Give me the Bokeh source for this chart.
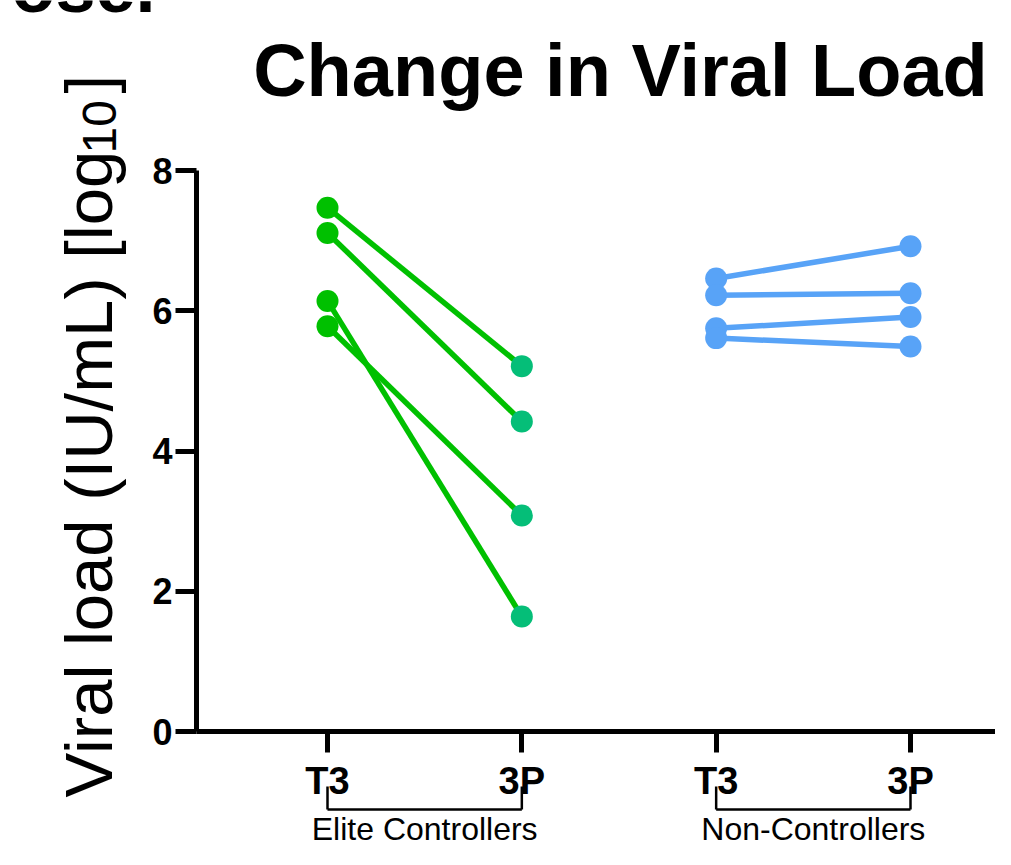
from bokeh.plotting import figure
from bokeh.models import LinearAxis, FixedTicker, Range1d
from bokeh.core.properties import value
from bokeh.embed import file_html
from bokeh.resources import INLINE
import math

# ---------------- data ----------------
groups = ["Elite Controllers", "Non-Controllers"]
conditions = ["T3", "3P"]
elite_t3 = [7.47, 7.11, 6.14, 5.78]
elite_3p = [5.21, 4.42, 1.64, 3.08]
non_t3 = [6.46, 6.22, 5.75, 5.61]
non_3p = [6.92, 6.25, 5.91, 5.49]
y_ticks = [0, 2, 4, 6, 8]
title_text = "Change in Viral Load"
ylabel_main = "Viral load (IU/mL) [log"
ylabel_sub = "10"
ylabel_end = "]"
corner_text = "ose."

# ---------------- layout ----------------
W, H = 995, 849
PX_X = 194.33          # px per x unit
X1_PX = 327            # canvas px of x=1
PX_Y = 70.125          # px per y unit
Y0_PX = 731            # canvas px (from top) of y=0
x_start = 1 - X1_PX / PX_X
x_end = x_start + W / PX_X
y_end = Y0_PX / PX_Y
y_start = y_end - H / PX_Y

def sx(px):
    return x_start + px / PX_X

def sy(py):
    return y_end - py / PX_Y

FONT = value("Liberation Sans")
GREEN = "#00C000"
TEAL = "#05BE78"
BLUE = "#58A3F7"

p = figure(width=W, height=H, output_backend="svg", toolbar_location=None,
           x_axis_type=None, y_axis_type=None,
           x_range=Range1d(x_start, x_end), y_range=Range1d(y_start, y_end),
           min_border=0, min_border_left=0, min_border_right=0,
           min_border_top=0, min_border_bottom=0)
p.outline_line_color = None
p.xgrid.visible = False
p.ygrid.visible = False
p.background_fill_color = "white"
p.border_fill_color = "white"

# ---------------- axes ----------------
yaxis_x = sx(196)
yax = LinearAxis(fixed_location=yaxis_x, bounds=(0, 8),
                 ticker=FixedTicker(ticks=y_ticks))
yax.axis_line_width = 5
yax.major_tick_line_width = 5
yax.major_tick_out = 21
yax.major_tick_in = 0
yax.minor_tick_out = 0
yax.minor_tick_in = 0
yax.major_label_text_font = "Liberation Sans"
yax.major_label_text_font_style = "bold"
yax.major_label_text_font_size = "36px"
yax.major_label_text_color = "black"
yax.major_label_standoff = 3
p.add_layout(yax, "left")

xpos = [1, 2, 3, 4]
xlabels = conditions + conditions
xax = LinearAxis(fixed_location=0, bounds=(yaxis_x, x_end),
                 ticker=FixedTicker(ticks=xpos))
xax.major_label_overrides = {k: v for k, v in zip(xpos, xlabels)}
xax.axis_line_width = 5
xax.major_tick_line_width = 5
xax.major_tick_out = 21
xax.major_tick_in = 0
xax.minor_tick_out = 0
xax.minor_tick_in = 0
xax.major_label_text_font = "Liberation Sans"
xax.major_label_text_font_style = "bold"
xax.major_label_text_font_size = "38px"
xax.major_label_text_color = "black"
xax.major_label_standoff = 7
p.add_layout(xax, "below")

# ---------------- data marks ----------------
n_e = len(elite_t3)
p.segment(x0=[1] * n_e, y0=elite_t3, x1=[2] * n_e, y1=elite_3p,
          line_color=GREEN, line_width=5.5)
n_n = len(non_t3)
p.segment(x0=[3] * n_n, y0=non_t3, x1=[4] * n_n, y1=non_3p,
          line_color=BLUE, line_width=5.5)
p.scatter([1] * n_e, elite_t3, size=22, fill_color=GREEN, line_color=None)
p.scatter([2] * n_e, elite_3p, size=22, fill_color=TEAL, line_color=None)
p.scatter([3] * n_n, non_t3, size=22, fill_color=BLUE, line_color=None)
p.scatter([4] * n_n, non_3p, size=22, fill_color=BLUE, line_color=None)

# ---------------- group brackets ----------------
br_top = sy(786)
br_bot = sy(809)
gx0 = [1, 3]
gx1 = [2, 4]
p.segment(x0=gx0, y0=[br_top] * 2, x1=gx0, y1=[br_bot] * 2,
          line_color="black", line_width=2.5)
p.segment(x0=gx1, y0=[br_top] * 2, x1=gx1, y1=[br_bot] * 2,
          line_color="black", line_width=2.5)
p.segment(x0=gx0, y0=[br_bot] * 2, x1=gx1, y1=[br_bot] * 2,
          line_color="black", line_width=2.5)
p.text(x=[(a + b) / 2 for a, b in zip(gx0, gx1)], y=[sy(810)] * 2, text=groups,
       text_font=FONT, text_font_size="32px", text_align="center",
       text_baseline="top", text_color="black")

# ---------------- title and labels ----------------
p.text(x=[sx(620)], y=[sy(28)], text=[title_text], text_font=FONT,
       text_font_size="74px", text_font_style="bold", text_align="center",
       text_baseline="top", text_color="black")

p.text(x=[sx(50)], y=[sy(797)], text=[ylabel_main], angle=math.pi / 2,
       text_font=FONT, text_font_size="67px", text_align="left",
       text_baseline="top", text_color="black")
p.text(x=[sx(82)], y=[sy(153)], text=[ylabel_sub], angle=math.pi / 2,
       text_font=FONT, text_font_size="48px", text_align="left",
       text_baseline="top", text_color="black")
p.text(x=[sx(50)], y=[sy(93)], text=[ylabel_end], angle=math.pi / 2,
       text_font=FONT, text_font_size="67px", text_align="left",
       text_baseline="top", text_color="black")

p.text(x=[sx(155)], y=[sy(26)], text=[corner_text], text_font=FONT,
       text_font_size="72px", text_font_style="bold", text_align="right",
       text_baseline="bottom", text_color="black")

open("out.html", "w").write(file_html(p, INLINE))
